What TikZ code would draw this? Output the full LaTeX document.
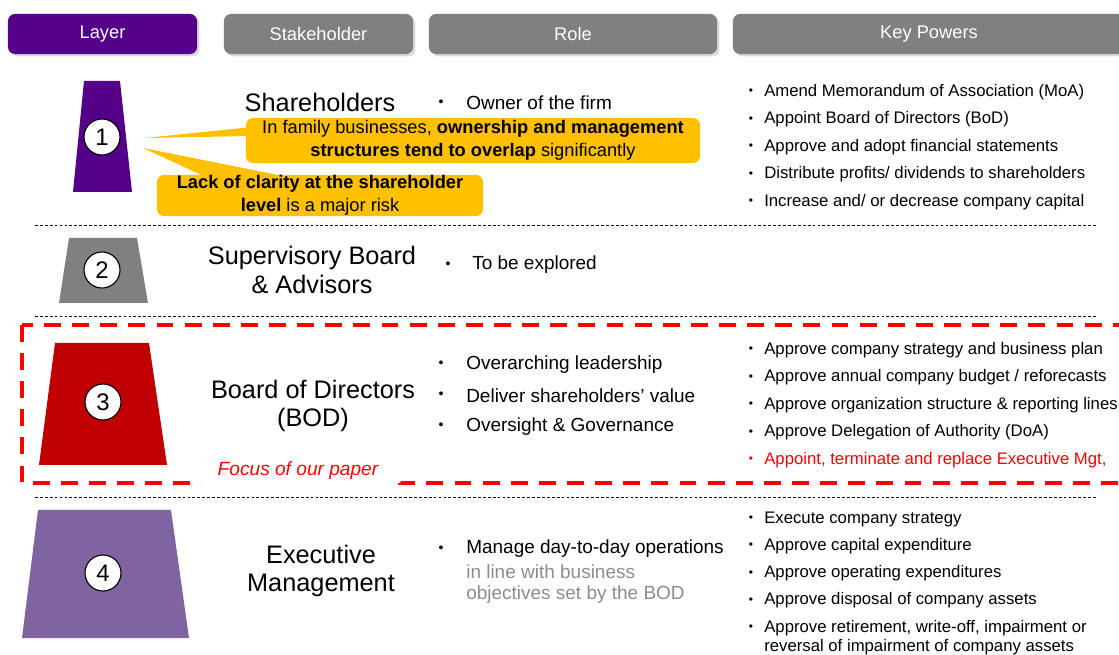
\documentclass[tikz,border=0pt]{standalone}
\usepackage{fontspec}
\setmainfont{Liberation Sans}
\usetikzlibrary{shadows}
\definecolor{layerpurple}{RGB}{85,0,139}
\definecolor{headgray}{RGB}{128,128,128}
\definecolor{bodred}{RGB}{192,0,0}
\definecolor{execpurple}{RGB}{128,100,162}
\definecolor{noteyellow}{RGB}{255,192,0}
\definecolor{softgray}{RGB}{140,140,140}
\definecolor{focusred}{RGB}{255,0,0}
\tikzset{
  header/.style={rounded corners=5pt, text=white, minimum height=1cm,
    font=\fontsize{13}{15}\selectfont,
    drop shadow={shadow xshift=.06cm, shadow yshift=-.06cm, opacity=.3}},
  layernum/.style={circle, draw, fill=white, thick, minimum size=.9cm,
    inner sep=0pt, font=\fontsize{17}{17}\selectfont},
  holder/.style={align=center, font=\fontsize{18}{20.5}\selectfont},
  role/.style={anchor=west, inner sep=0pt, font=\fontsize{13.5}{16}\selectfont},
  rolebullet/.style={inner sep=0pt, font=\fontsize{10}{12}\selectfont},
  power/.style={anchor=west, inner sep=0pt, font=\fontsize{11.9}{14}\selectfont},
  dot/.style={inner sep=0pt, font=\fontsize{8.5}{10}\selectfont},
  note/.style={fill=noteyellow, rounded corners=5pt, align=center,
    font=\fontsize{13}{16.3}\selectfont, inner sep=0pt},
  separator/.style={dash pattern=on 2pt off 1.5pt, line width=.7pt},
}
\begin{document}
\begin{tikzpicture}[x=0.025cm, y=-0.025cm]
  \useasboundingbox (0, 0) rectangle (1119, 655);
  % column headers
  \node[header, fill=layerpurple, minimum width=4.725cm] (hlayer) at (102.5, 34) {Layer};
  \node[header, fill=headgray, minimum width=4.725cm] (hholder) at (318.5, 34) {Stakeholder};
  \node[header, fill=headgray, minimum width=7.2cm] (hrole) at (573, 34) {Role};
  \node[header, fill=headgray, minimum width=9.8cm] (hpowers) at (929, 34) {Key Powers};

  % layer trapezia
  \fill[layerpurple] (84, 81) -- (120, 81) -- (132, 192) -- (73, 192) -- cycle;
  \fill[headgray] (69, 238) -- (137, 238) -- (148, 303) -- (59, 303) -- cycle;
  \fill[bodred] (55, 343) -- (149, 343) -- (167, 465) -- (39, 465) -- cycle;
  \fill[execpurple] (38, 510) -- (171, 510) -- (189, 638) -- (22, 638) -- cycle;
  \node[layernum] (l1) at (102, 137) {1};
  \node[layernum] (l2) at (102, 270) {2};
  \node[layernum] (l3) at (103, 402) {3};
  \node[layernum] (l4) at (103, 573) {4};

  % separators
  \draw[separator] (35, 225) -- (1097, 225);
  \draw[separator] (35, 316) -- (1097, 316);
  \draw[separator] (35, 497) -- (1097, 497);

  % focus frame
  \draw[focusred, line width=2.8pt, dash pattern=on 12pt off 8pt] (22, 325) rectangle (1135, 483);
  \node[fill=white, rounded corners=8pt, minimum width=5.3cm, minimum height=.7cm,
    text=focusred, font=\fontsize{13.6}{15}\selectfont\itshape] (focus) at (298, 471) {Focus of our paper};

  % stakeholders
  \node[holder] (sh) at (320, 102) {Shareholders};
  \node[holder] (sb) at (312, 270) {Supervisory Board\\\& Advisors};
  \node[holder] (bod) at (313, 406) {Board of Directors\\(BOD)};
  \node[holder] (em) at (321, 571) {Executive\\Management};

  % roles
  \node[rolebullet] (shb) at (441, 103) {\textbullet};
  \node[role] (shr) at (466, 103) {Owner of the firm};
  \node[rolebullet] (sbb) at (448, 265) {\textbullet};
  \node[role] (sbr) at (472, 265) {To be explored};
  \foreach \txt [count=\i] in {Overarching leadership, Deliver shareholders’ value, Oversight \& Governance} {
      \node[rolebullet] (bodb\i) at (441, 333.5+31*\i) {\textbullet};
      \node[role] (bodr\i) at (466, 333.5+31*\i) {\txt};
    }
  \node[rolebullet] (emb) at (441, 549) {\textbullet};
  \node[role] (emr1) at (466, 549) {Manage day-to-day operations};
  \node[role, text=softgray] (emr2) at (466, 572) {in line with business};
  \node[role, text=softgray] (emr3) at (466, 595) {objectives set by the BOD};

  % key powers
  \foreach \txt [count=\i] in {Amend Memorandum of Association (MoA), Appoint Board of Directors (BoD),
      Approve and adopt financial statements, Distribute profits/ dividends to shareholders,
      Increase and/ or decrease company capital} {
      \node[dot] (shd\i) at (751, 64.5+27.5*\i) {\textbullet};
      \node[power] (shk\i) at (764, 64.5+27.5*\i) {\txt};
    }
  \foreach \txt [count=\i] in {Approve company strategy and business plan, Approve annual company budget / reforecasts,
      Approve organization structure \& reporting lines, Approve Delegation of Authority (DoA)} {
      \node[dot] (bodd\i) at (751, 322.5+27.5*\i) {\textbullet};
      \node[power] (bodk\i) at (764, 322.5+27.5*\i) {\txt};
    }
  \node[dot, text=focusred] (bodd5) at (751, 460) {\textbullet};
  \node[power, text=focusred] (bodk5) at (764, 460) {Appoint, terminate and replace Executive Mgt,};
  \foreach \txt [count=\i] in {Execute company strategy, Approve capital expenditure,
      Approve operating expenditures, Approve disposal of company assets} {
      \node[dot] (emd\i) at (751, 491.8+27.2*\i) {\textbullet};
      \node[power] (emk\i) at (764, 491.8+27.2*\i) {\txt};
    }
  \node[dot] (emd5) at (751, 628) {\textbullet};
  \node[power, align=left, font=\fontsize{11.9}{13.5}\selectfont] (emk5) at (764, 637.5)
    {Approve retirement, write-off, impairment or\\reversal of impairment of company assets};

  % callouts
  \coordinate (tip1) at (145, 138);
  \coordinate (tip2) at (143, 148);
  \fill[noteyellow] (tip1) -- (252, 127) -- (252, 136) -- cycle;
  \fill[noteyellow] (tip2) -- (293, 178) -- (208, 178) -- cycle;
  \node[note, minimum width=11.35cm, minimum height=1.125cm] (note1) at (473, 140.5)
    {In family businesses, \textbf{ownership and management}\\\textbf{structures tend to overlap} significantly};
  \node[note, minimum width=8.15cm, minimum height=1.025cm] (note2) at (320, 195.5)
    {\textbf{Lack of clarity at the shareholder}\\\textbf{level} is a major risk};
\end{tikzpicture}
\end{document}
